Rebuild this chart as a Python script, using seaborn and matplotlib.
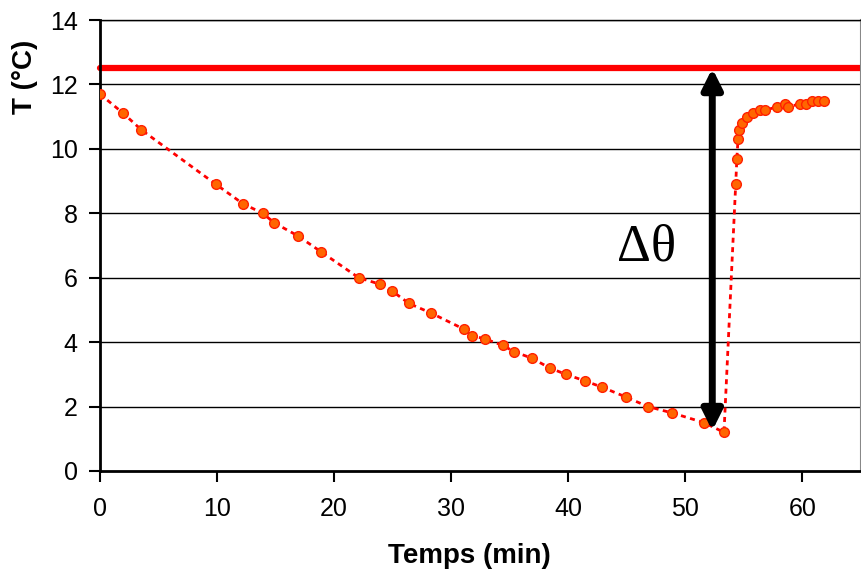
import numpy as np
import pandas as pd
import matplotlib
matplotlib.use("Agg")
import matplotlib.pyplot as plt
import seaborn as sns

# temperature readings (min, °C)
temps_min = [0, 2.0, 3.5, 9.9, 12.2, 13.9, 14.9, 16.9, 18.9, 22.1,
             23.9, 24.9, 26.4, 28.3, 31.1, 31.8, 32.9, 34.4, 35.4, 36.9,
             38.4, 39.8, 41.4, 42.9, 44.9, 46.8, 48.9, 51.6, 53.3,
             54.3, 54.4, 54.5, 54.6, 54.8, 55.3, 55.8, 56.4, 56.8, 57.8,
             58.5, 58.8, 59.8, 60.3, 60.8, 61.3, 61.8]
temp_c = [11.7, 11.1, 10.6, 8.9, 8.3, 8.0, 7.7, 7.3, 6.8, 6.0,
          5.8, 5.6, 5.2, 4.9, 4.4, 4.2, 4.1, 3.9, 3.7, 3.5,
          3.2, 3.0, 2.8, 2.6, 2.3, 2.0, 1.8, 1.5, 1.2,
          8.9, 9.7, 10.3, 10.6, 10.8, 11.0, 11.1, 11.2, 11.2, 11.3,
          11.4, 11.3, 11.4, 11.4, 11.5, 11.5, 11.5]

ref_temp = 12.5        # red reference line
arrow_t = 52.3         # delta-theta arrow position
arrow_low = 1.25
delta_label_t = 46.7
delta_label_T = 6.95

x_ticks = [0, 10, 20, 30, 40, 50, 60]
y_ticks = [0, 2, 4, 6, 8, 10, 12, 14]

df = pd.DataFrame({"t": temps_min, "T": temp_c})

sns.set_style("white")
plt.rcParams["font.family"] = ["Liberation Sans", "DejaVu Sans"]
plt.rcParams["text.color"] = "black"
plt.rcParams["xtick.color"] = "black"
plt.rcParams["ytick.color"] = "black"
plt.rcParams["axes.labelcolor"] = "black"

fig = plt.figure(figsize=(8.62, 5.70), dpi=100)
ax = fig.add_axes([0.116, 0.1737, 0.8828, 0.7912])

# horizontal gridlines
for yv in y_ticks[1:]:
    ax.axhline(yv, color="black", lw=1, zorder=0)

ax.axhline(ref_temp, color="#ff0000", lw=4.5, solid_capstyle="round",
           clip_on=False, zorder=2)

sns.lineplot(data=df, x="t", y="T", sort=False, ax=ax, color="#ff0000",
             lw=2, linestyle=(0, (1.8, 1.6)), marker="o", markersize=7,
             markerfacecolor="#ff6600", markeredgecolor="#ff2000",
             markeredgewidth=1, zorder=3)

ax.annotate("", xy=(arrow_t, arrow_low), xytext=(arrow_t, ref_temp),
            arrowprops=dict(arrowstyle="<|-|>", lw=5, color="black",
                            mutation_scale=30, shrinkA=0, shrinkB=0),
            zorder=4)

ax.text(delta_label_t, delta_label_T, "Δθ", fontsize=38,
        family=["Liberation Serif", "DejaVu Serif"],
        ha="center", va="center", color="black")

ax.set_xlim(0, 65)
ax.set_ylim(0, 14)
ax.set_xticks(x_ticks)
ax.set_yticks(y_ticks)
ax.tick_params(axis="both", direction="out", length=8, width=1.5,
               labelsize=18, color="black", labelcolor="black",
               bottom=True, left=True)
ax.tick_params(axis="x", pad=11)
ax.tick_params(axis="y", pad=8)

ax.set_xlabel("Temps (min)", fontsize=20, fontweight="bold")
ax.xaxis.set_label_coords(0.486, -0.16)
ax.set_ylabel("")
fig.text(25 / 862, 1 - 77 / 570, "T (°C)", fontsize=20, fontweight="bold",
         rotation=90, ha="center", va="center")

for side in ["left", "bottom"]:
    ax.spines[side].set_color("black")
    ax.spines[side].set_linewidth(2)
ax.spines["top"].set_color("black")
ax.spines["top"].set_linewidth(1)
ax.spines["right"].set_color("#888888")
ax.spines["right"].set_linewidth(1.5)

fig.savefig("out.png", dpi=100)
